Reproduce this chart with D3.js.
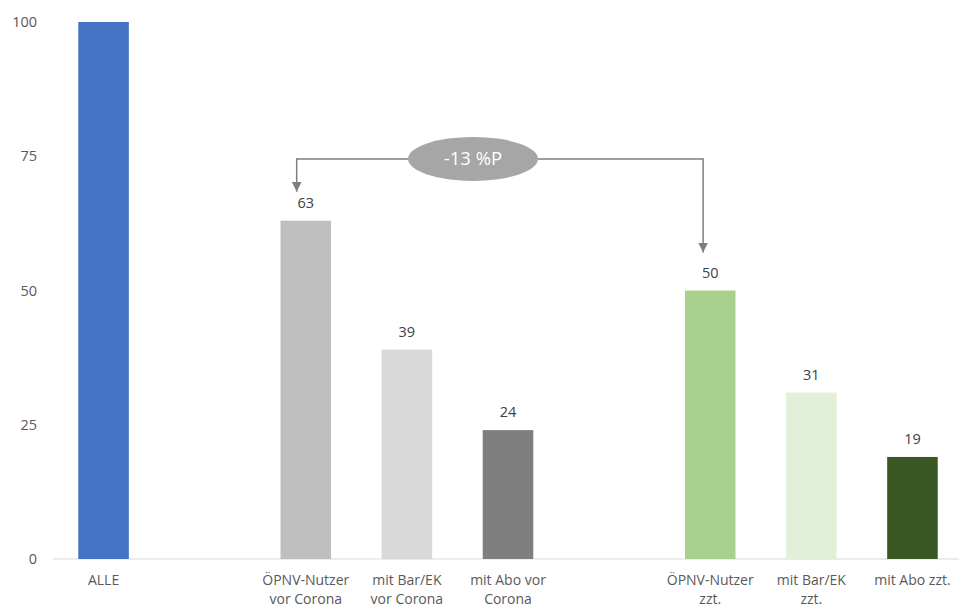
<!DOCTYPE html>
<html>
<head>
<meta charset="utf-8">
<script src="https://cdn.jsdelivr.net/npm/d3@7"></script>
<style>
  body { margin: 0; background: #fff; }
  text { font-family: "Open Sans", "Noto Sans", sans-serif; }
</style>
</head>
<body>
<svg id="chart" width="959" height="610"></svg>
<script>
// slots incl. two empty gap slots
var categories = ["ALLE", "gap1", "opnvVor", "barVor", "aboVor", "gap2", "opnvZzt", "barZzt", "aboZzt"];
var catLabels = {
  "ALLE": ["ALLE"],
  "opnvVor": ["ÖPNV-Nutzer", "vor Corona"],
  "barVor": ["mit Bar/EK", "vor Corona"],
  "aboVor": ["mit Abo vor", "Corona"],
  "opnvZzt": ["ÖPNV-Nutzer", "zzt."],
  "barZzt": ["mit Bar/EK", "zzt."],
  "aboZzt": ["mit Abo zzt."]
};
var values = [100, null, 63, 39, 24, null, 50, 31, 19];
var colors = ["#4472c4", null, "#bfbfbf", "#d9d9d9", "#7f7f7f", null, "#a9d18e", "#e2f0d9", "#385723"];
var showValue = [false, false, true, true, true, false, true, true, true];
var yTicks = [0, 25, 50, 75, 100];
var deltaLabel = "-13 %P";

var svg = d3.select("#chart");

var x = d3.scaleBand()
  .domain(categories)
  .range([53, 963])
  .paddingInner(0.5)
  .paddingOuter(0.25);

var y = d3.scaleLinear()
  .domain([0, 100])
  .range([559, 22]);

// y tick labels (no axis line, no gridlines)
var yAxis = d3.axisLeft(y).tickValues(yTicks).tickSize(0).tickPadding(0);
var yG = svg.append("g").attr("transform", "translate(37,0)").call(yAxis);
yG.select(".domain").remove();
yG.selectAll("text")
  .attr("fill", "#595959")
  .style("font-size", "14.5px");

// baseline
svg.append("line")
  .attr("x1", 53).attr("x2", 959)
  .attr("y1", y(0)).attr("y2", y(0))
  .attr("stroke", "#d9d9d9").attr("stroke-width", 1);

var data = categories.map(function(c, i){
  return {cat: c, value: values[i], color: colors[i], show: showValue[i]};
}).filter(function(d){ return d.value != null; });

svg.selectAll("rect.bar")
  .data(data)
  .enter().append("rect")
  .attr("class", "bar")
  .attr("x", function(d){ return x(d.cat); })
  .attr("width", x.bandwidth())
  .attr("y", function(d){ return y(d.value); })
  .attr("height", function(d){ return y(0) - y(d.value); })
  .attr("fill", function(d){ return d.color; });

svg.selectAll("text.val")
  .data(data.filter(function(d){ return d.show; }))
  .enter().append("text")
  .attr("class", "val")
  .attr("x", function(d){ return x(d.cat) + x.bandwidth() / 2; })
  .attr("y", function(d){ return y(d.value) - 13; })
  .attr("text-anchor", "middle")
  .attr("fill", "#404040")
  .style("font-size", "14.5px")
  .text(function(d){ return d.value; });

// category labels
var catG = svg.selectAll("g.cat")
  .data(data)
  .enter().append("g")
  .attr("class", "cat")
  .attr("transform", function(d){ return "translate(" + (x(d.cat) + x.bandwidth() / 2) + ",0)"; });
catG.selectAll("text")
  .data(function(d){ return catLabels[d.cat]; })
  .enter().append("text")
  .attr("x", 0)
  .attr("y", function(d, i){ return 585 + i * 19; })
  .attr("text-anchor", "middle")
  .attr("fill", "#595959")
  .style("font-size", "14px")
  .text(function(d){ return d; });

// delta annotation: bracket from 63 bar to 50 bar
var defs = svg.append("defs");
defs.append("marker")
  .attr("id", "arrow")
  .attr("viewBox", "0 0 10 10")
  .attr("refX", 10).attr("refY", 5)
  .attr("markerWidth", 10).attr("markerHeight", 10)
  .attr("markerUnits", "userSpaceOnUse")
  .attr("orient", "auto")
  .append("path")
  .attr("d", "M0,0 L10,5 L0,10 Z")
  .attr("fill", "#7f7f7f");

var leftX = x("opnvVor") + x.bandwidth() * 0.32;
var rightX = x("opnvZzt") + x.bandwidth() * 0.36;
var lineY = y(74.5);
var ellX = 473, ellRx = 65, ellRy = 22;

svg.append("path")
  .attr("d", "M" + (ellX - ellRx) + "," + lineY + " H" + leftX + " V" + (y(values[2]) - 29))
  .attr("fill", "none")
  .attr("stroke", "#7f7f7f").attr("stroke-width", 1.5)
  .attr("marker-end", "url(#arrow)");
svg.append("path")
  .attr("d", "M" + (ellX + ellRx) + "," + lineY + " H" + rightX + " V" + (y(values[6]) - 38))
  .attr("fill", "none")
  .attr("stroke", "#7f7f7f").attr("stroke-width", 1.5)
  .attr("marker-end", "url(#arrow)");

svg.append("ellipse")
  .attr("cx", ellX).attr("cy", lineY)
  .attr("rx", ellRx).attr("ry", ellRy)
  .attr("fill", "#a6a6a6");
svg.append("text")
  .attr("x", ellX).attr("y", lineY + 6)
  .attr("text-anchor", "middle")
  .attr("fill", "#fff")
  .style("font-size", "18.5px")
  .text(deltaLabel);
</script>
</body>
</html>
